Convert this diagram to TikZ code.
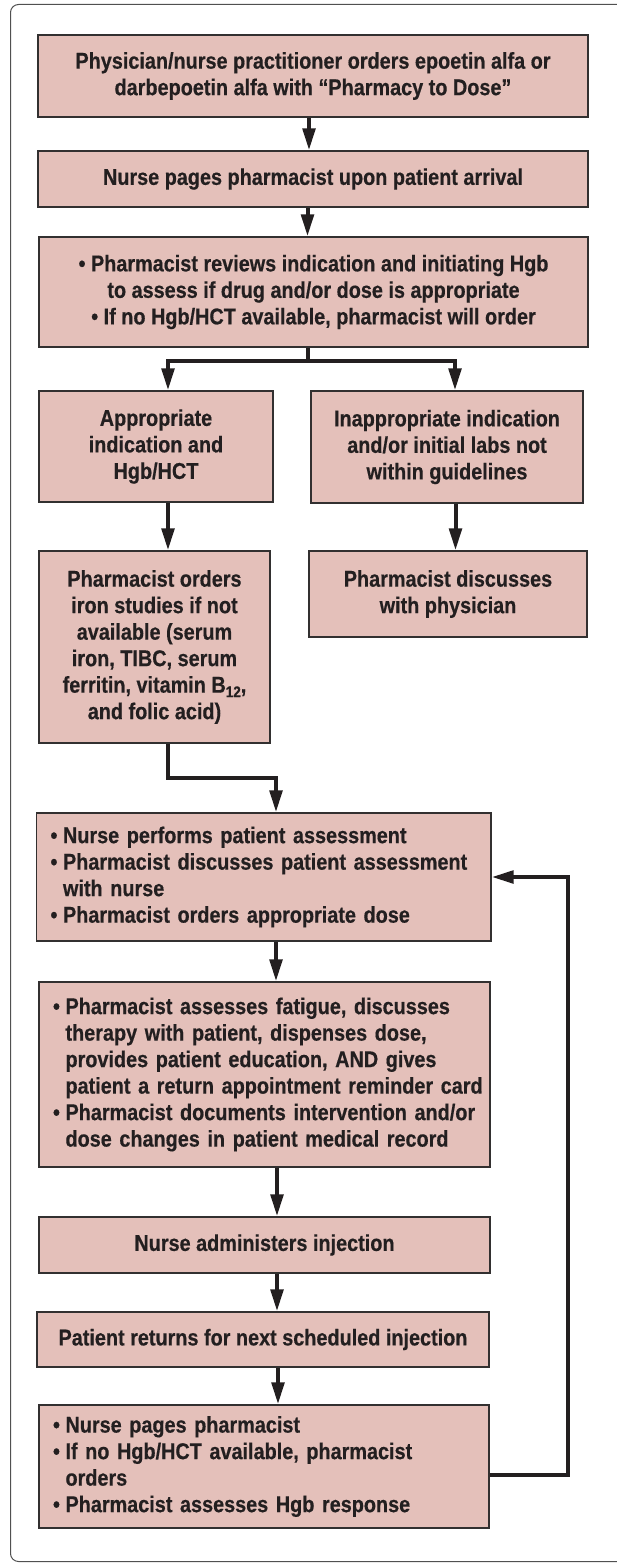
\documentclass[tikz,border=0pt]{standalone}
\usepackage{fontspec}
\setmainfont{Liberation Sans}[BoldFeatures={FakeStretch=0.87,FakeBold=0.5}]
\usetikzlibrary{arrows.meta}
\definecolor{boxfill}{RGB}{228,192,186}
\definecolor{ink}{RGB}{35,31,32}
\definecolor{edge}{RGB}{50,48,48}
\definecolor{framec}{RGB}{80,80,80}
\newcommand\bitem[1]{\mbox{\makebox[12.5pt][l]{•}#1}}
\newcommand\iitem[1]{\mbox{\hspace*{12.5pt}#1}}
\newcommand\subtw{\raisebox{-4.5pt}{\fontsize{15.5}{15.5}\selectfont 12}}
\begin{document}
\begin{tikzpicture}[x=1pt,y=-1pt,
  box/.style={draw=edge, line width=1.4pt, fill=boxfill, text=ink,
    font=\bfseries\fontsize{22.8}{26.5}\selectfont, inner sep=0pt, align=center},
  lbox/.style={box, inner xsep=14pt, align=left},
  flow/.style={draw=ink, line width=4pt, -{Triangle[width=12.5pt,length=22pt]}},
  ]
\useasboundingbox (0,0) rectangle (616,1563);
\draw[draw=framec, line width=1pt, rounded corners=8pt] (10.5,4.5) rectangle (640,1561.5);

\node[box, minimum width=550pt, minimum height=82pt] (b1) at (313,76)
  {Physician/nurse practitioner orders epoetin alfa or\\darbepoetin alfa with “Pharmacy to Dose”};
\node[box, minimum width=550pt, minimum height=56pt] (b2) at (313,179)
  {Nurse pages pharmacist upon patient arrival};
\node[box, minimum width=549pt, minimum height=110pt] (b3) at (313.5,292)
  {• Pharmacist reviews indication and initiating Hgb\\to assess if drug and/or dose is appropriate\\• If no Hgb/HCT available, pharmacist will order};
\node[box, minimum width=234pt, minimum height=111pt] (b4) at (156,446.5)
  {Appropriate\\indication and\\Hgb/HCT};
\node[box, minimum width=272pt, minimum height=112pt] (b5) at (447,447)
  {Inappropriate indication\\and/or initial labs not\\within guidelines};
\node[box, minimum width=231pt, minimum height=192pt] (b6) at (154.5,647)
  {Pharmacist orders\\iron studies if not\\available (serum\\iron, TIBC, serum\\ferritin, vitamin B\subtw,\\and folic acid)};
\node[box, minimum width=278pt, minimum height=86pt] (b7) at (448,594)
  {Pharmacist discusses\\with physician};
\node[lbox, text width=426.5pt, minimum height=128pt] (b8) at (263.75,877)
  {\bitem{Nurse performs patient assessment}\\
   \bitem{Pharmacist discusses patient assessment}\\
   \iitem{with nurse}\\
   \bitem{Pharmacist orders appropriate dose}};
\node[lbox, text width=423pt, minimum height=185pt] (b9) at (264.5,1074.5)
  {\bitem{Pharmacist assesses fatigue, discusses}\\
   \iitem{therapy with patient, dispenses dose,}\\
   \iitem{provides patient education, AND gives}\\
   \iitem{patient a return appointment reminder card}\\
   \bitem{Pharmacist documents intervention and/or}\\
   \iitem{dose changes in patient medical record}};
\node[box, minimum width=451pt, minimum height=56pt] (b10) at (264.5,1245)
  {Nurse administers injection};
\node[box, minimum width=452pt, minimum height=55pt] (b11) at (263,1339.5)
  {Patient returns for next scheduled injection};
\node[lbox, text width=422pt, minimum height=123pt] (b12) at (264,1466.5)
  {\bitem{Nurse pages pharmacist}\\
   \bitem{If no Hgb/HCT available, pharmacist}\\
   \iitem{orders}\\
   \bitem{Pharmacist assesses Hgb response}};

\coordinate (lp) at (568,1000);

\draw[flow] ([xshift=-4pt]b1.south) -- ([xshift=-4pt]b1.south |- b2.north);
\draw[flow] ([xshift=-5.5pt]b2.south) -- ([xshift=-5.5pt]b2.south |- b3.north);
\draw[flow] ([xshift=-6pt]b3.south) -- ++(0,13) -| ([xshift=12pt]b4.north);
\draw[flow] ([xshift=-6pt]b3.south) -- ++(0,13) -| ([xshift=8pt]b5.north);
\draw[flow] ([xshift=12pt]b4.south) -- ([xshift=12pt]b4.south |- b6.north);
\draw[flow] ([xshift=8.5pt]b5.south) -- ([xshift=8.5pt]b5.south |- b7.north);
\draw[flow] ([xshift=13.5pt]b6.south) -- ++(0,34) -| ([xshift=12.25pt]b8.north);
\draw[flow] ([xshift=12.25pt]b8.south) -- ([xshift=12.25pt]b8.south |- b9.north);
\draw[flow] ([xshift=12.5pt]b9.south) -- ([xshift=12.5pt]b9.south |- b10.north);
\draw[flow] ([xshift=12.5pt]b10.south) -- ([xshift=12.5pt]b10.south |- b11.north);
\draw[flow] ([xshift=15pt]b11.south) -- ([xshift=15pt]b11.south |- b12.north);
\draw[flow] ([yshift=-8.5pt]b12.east) -- ([yshift=-8.5pt]b12.east -| lp) -- (b8.east -| lp) -- (b8.east);
\end{tikzpicture}
\end{document}
